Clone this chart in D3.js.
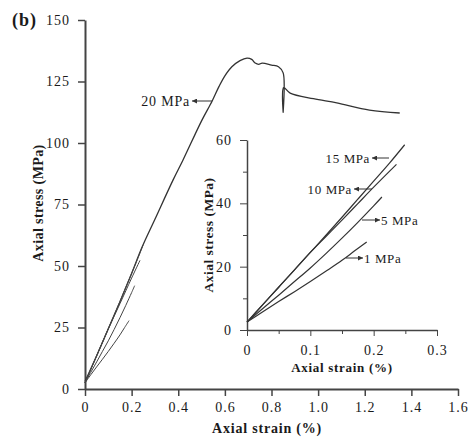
<!DOCTYPE html>
<html>
<head>
<meta charset="utf-8">
<script src="https://cdn.jsdelivr.net/npm/d3@7"></script>
<style>
  body { margin: 0; background: #fff; }
  text { font-family: "Liberation Serif", "DejaVu Serif", serif; fill: #1a1a1a; }
  .axis path, .axis line { stroke: #444; }
</style>
</head>
<body>
<div id="chart"></div>
<script>
// main curve, 20 MPa confining pressure (strain %, stress MPa)
var strain20 = [0, 0.05, 0.1, 0.15, 0.2, 0.245, 0.3, 0.378, 0.42, 0.5, 0.545, 0.575, 0.6, 0.63, 0.665, 0.695, 0.715, 0.73, 0.745, 0.76, 0.8, 0.83, 0.85, 0.85, 0.852, 0.88, 0.98, 1.08, 1.22, 1.35];
var stress20 = [3, 13.5, 24.5, 35.5, 47, 57.7, 69, 85, 93, 109, 117, 123, 127.3, 131, 133.5, 134.5, 134, 132.5, 132, 132.5, 131.7, 131, 128.5, 112.5, 122.5, 120.3, 118, 116.3, 113.4, 112.2];

// lower confining pressures
var strain15 = [0, 0.025, 0.05, 0.075, 0.1, 0.125, 0.15, 0.175, 0.2, 0.225, 0.249];
var stress15 = [2.5, 8, 13.5, 19, 24.5, 30, 35.6, 41.3, 47, 52.7, 58.5];
var strain10 = [0, 0.025, 0.05, 0.075, 0.1, 0.125, 0.15, 0.175, 0.2, 0.236];
var stress10 = [2.5, 8, 13.5, 19, 24.5, 29.6, 34.7, 39.9, 45.1, 52.3];
var strain5 = [0, 0.025, 0.05, 0.075, 0.1, 0.125, 0.15, 0.175, 0.2, 0.213];
var stress5 = [2.5, 6.8, 11, 15.3, 19.6, 24.2, 29, 34, 39.2, 42];
var strain1 = [0, 0.025, 0.05, 0.075, 0.1, 0.125, 0.15, 0.17, 0.189];
var stress1 = [2.5, 5.8, 9, 12.1, 15.3, 18.6, 22, 25, 27.8];

var mainXTicks = [0, 0.2, 0.4, 0.6, 0.8, 1.0, 1.2, 1.4, 1.6];
var mainYTicks = [0, 25, 50, 75, 100, 125, 150];
var insetXTicks = [0, 0.1, 0.2, 0.3];
var insetXMinor = [0.05, 0.15, 0.25];
var insetYTicks = [0, 20, 40, 60];
var insetYMinor = [10, 30, 50];

function pairs(xs, ys) {
    return xs.map(function(x, i) { return [x, ys[i]]; });
}
var small = [
    {name: "15 MPa", pts: pairs(strain15, stress15)},
    {name: "10 MPa", pts: pairs(strain10, stress10)},
    {name: "5 MPa", pts: pairs(strain5, stress5)},
    {name: "1 MPa", pts: pairs(strain1, stress1)}
];

var width = 475, height = 437;
var svg = d3.select("#chart").append("svg")
    .attr("width", width)
    .attr("height", height);

svg.append("defs").append("marker")
    .attr("id", "head")
    .attr("viewBox", "0 0 10 10")
    .attr("refX", 10).attr("refY", 5)
    .attr("markerWidth", 5).attr("markerHeight", 5)
    .attr("orient", "auto")
  .append("path")
    .attr("d", "M0,0L10,5L0,10z")
    .attr("fill", "#333");

function fmt(d) { return d === 0 ? "0" : d3.format(".1f")(d); }

// main scales
var x = d3.scaleLinear().domain([0, 1.6]).range([85, 458]);
var y = d3.scaleLinear().domain([0, 150]).range([389, 20]);

var xAxis = d3.axisBottom(x).tickValues(mainXTicks).tickSize(7).tickPadding(6)
    .tickSizeOuter(0).tickFormat(fmt);
var yAxis = d3.axisLeft(y).tickValues(mainYTicks).tickSize(7).tickPadding(8)
    .tickSizeOuter(0);

var gx = svg.append("g").attr("class", "axis").attr("transform", "translate(0,389)").call(xAxis);
var gy = svg.append("g").attr("class", "axis").attr("transform", "translate(85,0)").call(yAxis);
[gx, gy].forEach(function(g) {
    g.select(".domain").attr("stroke-width", 2).attr("stroke", "#555");
    g.selectAll(".tick line").attr("stroke-width", 1.5);
    g.selectAll("text").attr("font-size", 14).attr("fill", "#1a1a1a")
        .attr("letter-spacing", 1)
        .style("font-family", "Liberation Serif");
});

var line = d3.line()
    .curve(d3.curveCatmullRom.alpha(0.5))
    .x(function(d) { return x(d[0]); })
    .y(function(d) { return y(d[1]); });

svg.append("path")
    .datum(pairs(strain20, stress20))
    .attr("d", line)
    .attr("fill", "none").attr("stroke", "#333").attr("stroke-width", 1.3);

svg.selectAll(".smallmain")
    .data(small)
    .enter().append("path")
    .attr("class", "smallmain")
    .attr("d", function(d) { return line(d.pts); })
    .attr("fill", "none").attr("stroke", "#444").attr("stroke-width", 1);

// main labels
svg.append("text")
    .attr("x", 12).attr("y", 26)
    .attr("font-size", 18).attr("font-weight", "bold")
    .attr("letter-spacing", 1)
    .text("(b)");

svg.append("text")
    .attr("transform", "translate(43,203)rotate(-90)")
    .attr("text-anchor", "middle")
    .attr("font-size", 14).attr("font-weight", "bold")
    .attr("letter-spacing", 0.4)
    .text("Axial stress (MPa)");

svg.append("text")
    .attr("x", 267).attr("y", 433)
    .attr("text-anchor", "middle")
    .attr("font-size", 14).attr("font-weight", "bold")
    .attr("letter-spacing", 0.8)
    .text("Axial strain (%)");

svg.append("text")
    .attr("x", 190).attr("y", 106)
    .attr("text-anchor", "end")
    .attr("font-size", 14)
    .attr("letter-spacing", 0.8)
    .text("20 MPa");
svg.append("line")
    .attr("x1", x(0.545)).attr("y1", 101)
    .attr("x2", 192).attr("y2", 101)
    .attr("stroke", "#333").attr("stroke-width", 1)
    .attr("marker-end", "url(#head)");

// inset
var xi = d3.scaleLinear().domain([0, 0.3]).range([247, 437]);
var yi = d3.scaleLinear().domain([0, 60]).range([330, 140]);

var gix = svg.append("g").attr("class", "axis").attr("transform", "translate(0,330)")
    .call(d3.axisBottom(xi).tickValues(insetXTicks).tickSize(6).tickPadding(9)
        .tickSizeOuter(0).tickFormat(fmt));
var giy = svg.append("g").attr("class", "axis").attr("transform", "translate(247,0)")
    .call(d3.axisLeft(yi).tickValues(insetYTicks).tickSize(7).tickPadding(8)
        .tickSizeOuter(0));
svg.append("g").attr("class", "axis").attr("transform", "translate(0,330)")
    .call(d3.axisBottom(xi).tickValues(insetXMinor).tickSize(4).tickFormat(""))
    .select(".domain").remove();
svg.append("g").attr("class", "axis").attr("transform", "translate(247,0)")
    .call(d3.axisLeft(yi).tickValues(insetYMinor).tickSize(4).tickFormat(""))
    .select(".domain").remove();
[gix, giy].forEach(function(g) {
    g.select(".domain").attr("stroke-width", 1.5);
    g.selectAll("text").attr("font-size", 14).attr("fill", "#1a1a1a")
        .attr("letter-spacing", 1)
        .style("font-family", "Liberation Serif");
});

var linei = d3.line()
    .curve(d3.curveCatmullRom.alpha(0.5))
    .x(function(d) { return xi(d[0]); })
    .y(function(d) { return yi(d[1]); });

svg.selectAll(".smallinset")
    .data(small)
    .enter().append("path")
    .attr("class", "smallinset")
    .attr("d", function(d) { return linei(d.pts); })
    .attr("fill", "none").attr("stroke", "#333").attr("stroke-width", 1.2);

svg.append("text")
    .attr("transform", "translate(213,235)rotate(-90)")
    .attr("text-anchor", "middle")
    .attr("font-size", 13.5).attr("font-weight", "bold")
    .attr("letter-spacing", 0.5)
    .text("Axial stress (MPa)");

svg.append("text")
    .attr("x", 342).attr("y", 372)
    .attr("text-anchor", "middle")
    .attr("font-size", 13).attr("font-weight", "bold")
    .attr("letter-spacing", 0.7)
    .text("Axial strain (%)");

// inset labels with arrows pointing at the text
var insetLabels = [
    {name: "15 MPa", tx: 370, ty: 158, anchor: "end", ax1: 389, ax2: 372},
    {name: "10 MPa", tx: 352, ty: 189, anchor: "end", ax1: 372, ax2: 354},
    {name: "5 MPa", tx: 381, ty: 220, anchor: "start", ax1: 362, ax2: 380},
    {name: "1 MPa", tx: 364, ty: 258, anchor: "start", ax1: 346, ax2: 363}
];
svg.selectAll(".lab")
    .data(insetLabels)
    .enter().append("text")
    .attr("class", "lab")
    .attr("x", function(d) { return d.tx; })
    .attr("y", function(d) { return d.ty + 4.5; })
    .attr("text-anchor", function(d) { return d.anchor; })
    .attr("font-size", 13)
    .attr("letter-spacing", 0.6)
    .text(function(d) { return d.name; });
svg.selectAll(".arr")
    .data(insetLabels)
    .enter().append("line")
    .attr("class", "arr")
    .attr("x1", function(d) { return d.ax1; })
    .attr("x2", function(d) { return d.ax2; })
    .attr("y1", function(d) { return d.ty; })
    .attr("y2", function(d) { return d.ty; })
    .attr("stroke", "#333").attr("stroke-width", 1)
    .attr("marker-end", "url(#head)");
</script>
</body>
</html>
